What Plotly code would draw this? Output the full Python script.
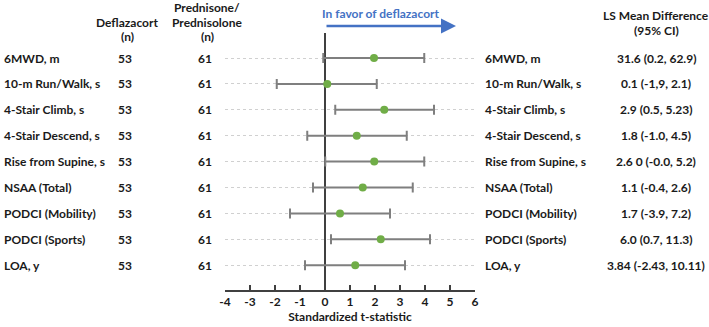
import plotly.graph_objects as go

categories = ["6MWD, m", "10-m Run/Walk, s", "4-Stair Climb, s", "4-Stair Descend, s",
              "Rise from Supine, s", "NSAA (Total)", "PODCI (Mobility)", "PODCI (Sports)", "LOA, y"]
n_deflazacort = [53, 53, 53, 53, 53, 53, 53, 53, 53]
n_prednisone = [61, 61, 61, 61, 61, 61, 61, 61, 61]
t_est = [1.96, 0.09, 2.37, 1.27, 1.97, 1.51, 0.60, 2.23, 1.21]
t_lo = [-0.07, -1.93, 0.41, -0.71, 0.01, -0.48, -1.40, 0.24, -0.80]
t_hi = [3.97, 2.07, 4.36, 3.27, 3.97, 3.51, 2.60, 4.20, 3.20]
ls_text = ["31.6 (0.2, 62.9)", "0.1 (-1,9, 2.1)", "2.9 (0.5, 5.23)", "1.8 (-1.0, 4.5)",
           "2.6 0 (-0.0, 5.2)", "1.1 (-0.4, 2.6)", "1.7 (-3.9, 7.2)", "6.0 (0.7, 11.3)",
           "3.84 (-2.43, 10.11)"]
x_ticks = [-4, -3, -2, -1, 0, 1, 2, 3, 4, 5, 6]
x_tick_labels = ["-4", "-3", "-2", "-1", "0", "1", "2", "3", "4", "5", "6"]

rows = list(range(len(categories)))
FONT = "Lato"
TXT = "#1a1a1a"

W, H = 709, 327
PX_L, PX_R, PX_T, PX_B = 225, 475, 33, 290
L, T, R, B = PX_L, PX_T, W - PX_R, H - PX_B
plot_w = PX_R - PX_L
plot_h = PX_B - PX_T
row_px = 25.9
first_row_px = 58


def px_x(px):
    return (px - PX_L) / plot_w


def px_y(py):
    return (py - first_row_px) / row_px


def paper_y(py):
    return (PX_B - py) / plot_h


y_top = px_y(PX_T)
y_bot = px_y(PX_B)

ann = []
fs = 12


def bold(size=fs, color=TXT):
    return dict(size=size, color=color, family=FONT, weight="bold")


for i, c in enumerate(categories):
    ann.append(dict(x=px_x(2), y=i, xref="paper", yref="y", text=c, showarrow=False,
                    xanchor="left", font=bold()))
    ann.append(dict(x=px_x(125), y=i, xref="paper", yref="y", text=str(n_deflazacort[i]),
                    showarrow=False, xanchor="center", font=bold()))
    ann.append(dict(x=px_x(205), y=i, xref="paper", yref="y", text=str(n_prednisone[i]),
                    showarrow=False, xanchor="center", font=bold()))
    ann.append(dict(x=px_x(483), y=i, xref="paper", yref="y", text=c, showarrow=False,
                    xanchor="left", font=bold()))
    ann.append(dict(x=px_x(656), y=i, xref="paper", yref="y", text=ls_text[i], showarrow=False,
                    xanchor="center", font=bold()))

headers = [
    (127, 23, "Deflazacort"), (127, 37, "(n)"),
    (207, 8, "Prednisone/"), (207, 23, "Prednisolone"), (207, 37, "(n)"),
    (656, 15, "LS Mean Difference"), (656, 30, "(95% CI)"),
]
for hx, hy, t in headers:
    ann.append(dict(x=px_x(hx), y=paper_y(hy), xref="paper", yref="paper", text=t,
                    showarrow=False, xanchor="center", yanchor="middle", font=bold()))

ann.append(dict(x=px_x(381), y=paper_y(13), xref="paper", yref="paper",
                text="In favor of deflazacort", showarrow=False, xanchor="center",
                yanchor="middle", font=bold(color="#4472c4")))
ann.append(dict(x=px_x(456), y=paper_y(26), xref="paper", yref="paper", text="",
                showarrow=True, ax=-131, ay=0, axref="pixel", ayref="pixel",
                arrowhead=2, arrowsize=1.2, arrowwidth=2.5, arrowcolor="#4472c4"))

fig = go.Figure()
fig.add_trace(go.Scatter(
    x=t_est, y=rows, mode="markers",
    marker=dict(color="#70ad47", size=8),
    error_x=dict(type="data", symmetric=False,
                 array=[h - e for h, e in zip(t_hi, t_est)],
                 arrayminus=[e - l for e, l in zip(t_est, t_lo)],
                 color="#7f7f7f", thickness=2, width=5),
    showlegend=False, hoverinfo="skip"))

fig.update_layout(
    width=W, height=H,
    margin=dict(l=L, r=R, t=T, b=B, autoexpand=False),
    paper_bgcolor="white", plot_bgcolor="white",
    annotations=ann,
    xaxis=dict(range=[-4, 6], tickvals=x_ticks, ticktext=x_tick_labels,
               ticks="inside", ticklen=5, tickcolor="#404040", tickwidth=1.5,
               showline=True, linecolor="#404040", linewidth=1.5,
               showgrid=False, zeroline=True, zerolinecolor="#404040", zerolinewidth=1.5,
               tickfont=bold(), automargin=False,
               title=dict(text="Standardized t-statistic", standoff=4, font=bold()),
               fixedrange=True),
    yaxis=dict(range=[y_bot, y_top], tickvals=rows, showticklabels=False,
               showgrid=True, gridcolor="#d0d0d0", griddash="dot", gridwidth=1,
               zeroline=False, showline=False, fixedrange=True, automargin=False),
)

fig.write_html("out.html", config={"displayModeBar": False},
               post_script="document.body.style.margin='0';document.body.style.overflow='hidden';")
